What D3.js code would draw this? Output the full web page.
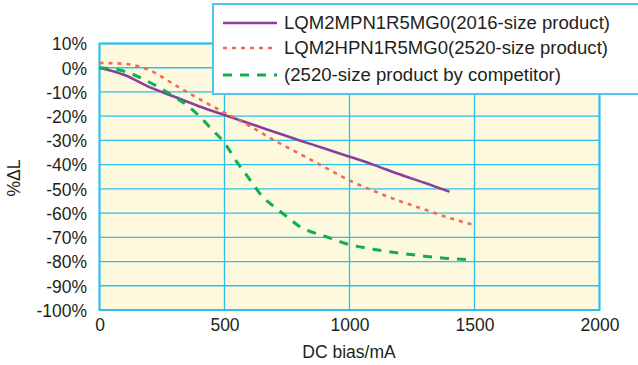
<!DOCTYPE html>
<html>
<head>
<meta charset="utf-8">
<script src="https://cdn.jsdelivr.net/npm/d3@7"></script>
<style>
  body { margin: 0; background: #fff; }
  text { font-family: "Liberation Sans", Arial, sans-serif; fill: #231f20; }
</style>
</head>
<body>
<div id="container"></div>
<script>
// DC bias (mA) vs inductance change (%)
var purpleBias = [0, 100, 200, 300, 400, 500, 600, 700, 800, 900, 1000, 1100, 1200, 1300, 1400];
var purpleDelta = [0, -3, -8, -12, -16, -19.5, -23, -26.5, -30, -33.3, -36.7, -40.2, -44, -47.5, -51.2];

var orangeBias = [0, 100, 200, 300, 400, 500, 600, 700, 800, 900, 1000, 1100, 1200, 1300, 1400, 1500];
var orangeDelta = [2, 1.6, -1, -7, -13, -18.5, -24, -30, -35.5, -41, -46.5, -51, -55, -58.5, -62, -65];

var greenBias = [0, 100, 200, 300, 350, 400, 450, 500, 550, 600, 650, 700, 750, 800, 900, 1000, 1100, 1200, 1300, 1400, 1490];
var greenDelta = [0, -1.5, -6, -12, -15.5, -20, -25.5, -31, -39, -46, -53, -57.5, -61.5, -65.5, -69.5, -73, -75, -76.5, -77.8, -78.8, -79.3];

var xTicks = [0, 500, 1000, 1500, 2000];
var yTicks = [10, 0, -10, -20, -30, -40, -50, -60, -70, -80, -90, -100];

var legendLabels = [
  'LQM2MPN1R5MG0(2016-size product)',
  'LQM2HPN1R5MG0(2520-size product)',
  '(2520-size product by competitor)'
];

var width = 638, height = 365;
var gridColor = '#2bbfe9';
var fontFamily = '"Liberation Sans", Arial, sans-serif';

var svg = d3.select('#container').append('svg')
  .attr('width', width)
  .attr('height', height);

var x = d3.scaleLinear().domain([0, 2000]).range([99.5, 599.5]);
var y = d3.scaleLinear().domain([10, -100]).range([43.5, 310]);

// plot background
svg.append('rect')
  .attr('x', x(0)).attr('y', y(10))
  .attr('width', x(2000) - x(0)).attr('height', y(-100) - y(10))
  .attr('fill', '#fdf9df');

// grid lines
svg.selectAll('.hgrid')
  .data(yTicks)
  .enter()
  .append('line')
  .attr('x1', x(0)).attr('x2', x(2000))
  .attr('y1', function(d) { return y(d); })
  .attr('y2', function(d) { return y(d); })
  .attr('stroke', gridColor)
  .attr('stroke-width', 1.3);

svg.selectAll('.vgrid')
  .data(xTicks)
  .enter()
  .append('line')
  .attr('y1', y(10)).attr('y2', y(-100))
  .attr('x1', function(d) { return x(d); })
  .attr('x2', function(d) { return x(d); })
  .attr('stroke', gridColor)
  .attr('stroke-width', 1.3);

// outer frame
svg.append('rect')
  .attr('x', x(0)).attr('y', y(10))
  .attr('width', x(2000) - x(0)).attr('height', y(-100) - y(10))
  .attr('fill', 'none')
  .attr('stroke', gridColor)
  .attr('stroke-width', 2);

// axes (labels only)
var yAxis = d3.axisLeft(y)
  .tickValues(yTicks)
  .tickSize(0)
  .tickPadding(0)
  .tickFormat(function(d) { return d + '%'; });

svg.append('g')
  .attr('transform', 'translate(87,0)')
  .call(yAxis)
  .call(function(g) { g.select('.domain').remove(); })
  .selectAll('text')
  .attr('font-size', 17.5)
  .attr('dy', '0.36em')
  .attr('fill', '#231f20')
  .style('font-family', fontFamily);

var xAxis = d3.axisBottom(x)
  .tickValues(xTicks)
  .tickSize(0)
  .tickPadding(0)
  .tickFormat(d3.format('d'));

svg.append('g')
  .attr('transform', 'translate(0,319)')
  .call(xAxis)
  .call(function(g) { g.select('.domain').remove(); })
  .selectAll('text')
  .attr('font-size', 17.5)
  .attr('dy', '0.71em')
  .attr('fill', '#231f20')
  .style('font-family', fontFamily);

svg.append('text')
  .attr('x', 349)
  .attr('y', 358)
  .attr('text-anchor', 'middle')
  .attr('font-size', 17.5)
  .text('DC bias/mA');

svg.append('text')
  .attr('transform', 'translate(20,178) rotate(-90)')
  .attr('text-anchor', 'middle')
  .attr('font-size', 17.5)
  .text('%\u0394L');

// series
var line = d3.line()
  .x(function(d) { return x(d[0]); })
  .y(function(d) { return y(d[1]); })
  .curve(d3.curveMonotoneX);

var series = [
  { bias: purpleBias, delta: purpleDelta, color: '#8a3f9b', dash: null, w: 2.6 },
  { bias: orangeBias, delta: orangeDelta, color: '#f4694f', dash: '4,5', w: 2.6 },
  { bias: greenBias, delta: greenDelta, color: '#0db04b', dash: '9,8', w: 3 }
];

series.forEach(function(s) {
  svg.append('path')
    .datum(d3.zip(s.bias, s.delta))
    .attr('d', line)
    .attr('fill', 'none')
    .attr('stroke', s.color)
    .attr('stroke-width', s.w)
    .attr('stroke-dasharray', s.dash);
});

// legend
var legend = svg.append('g');
legend.append('rect')
  .attr('x', 213).attr('y', 4)
  .attr('width', 440).attr('height', 90)
  .attr('fill', '#fff')
  .attr('stroke', '#4cc6ec')
  .attr('stroke-width', 2);

var legendRows = [23, 48, 75];
var legendWidths = [326, 324, 277];
legend.selectAll('.item')
  .data(series)
  .enter()
  .append('line')
  .attr('x1', 223).attr('x2', 277)
  .attr('y1', function(d, i) { return legendRows[i]; })
  .attr('y2', function(d, i) { return legendRows[i]; })
  .attr('stroke', function(d) { return d.color; })
  .attr('stroke-width', function(d) { return d.w; })
  .attr('stroke-dasharray', function(d) { return d.dash; });

legend.selectAll('.label')
  .data(legendLabels)
  .enter()
  .append('text')
  .attr('x', 284)
  .attr('y', function(d, i) { return legendRows[i]; })
  .attr('dy', '0.36em')
  .attr('font-size', 17.5)
  .attr('textLength', function(d, i) { return legendWidths[i]; })
  .attr('lengthAdjust', 'spacingAndGlyphs')
  .text(function(d) { return d; });
</script>
</body>
</html>
